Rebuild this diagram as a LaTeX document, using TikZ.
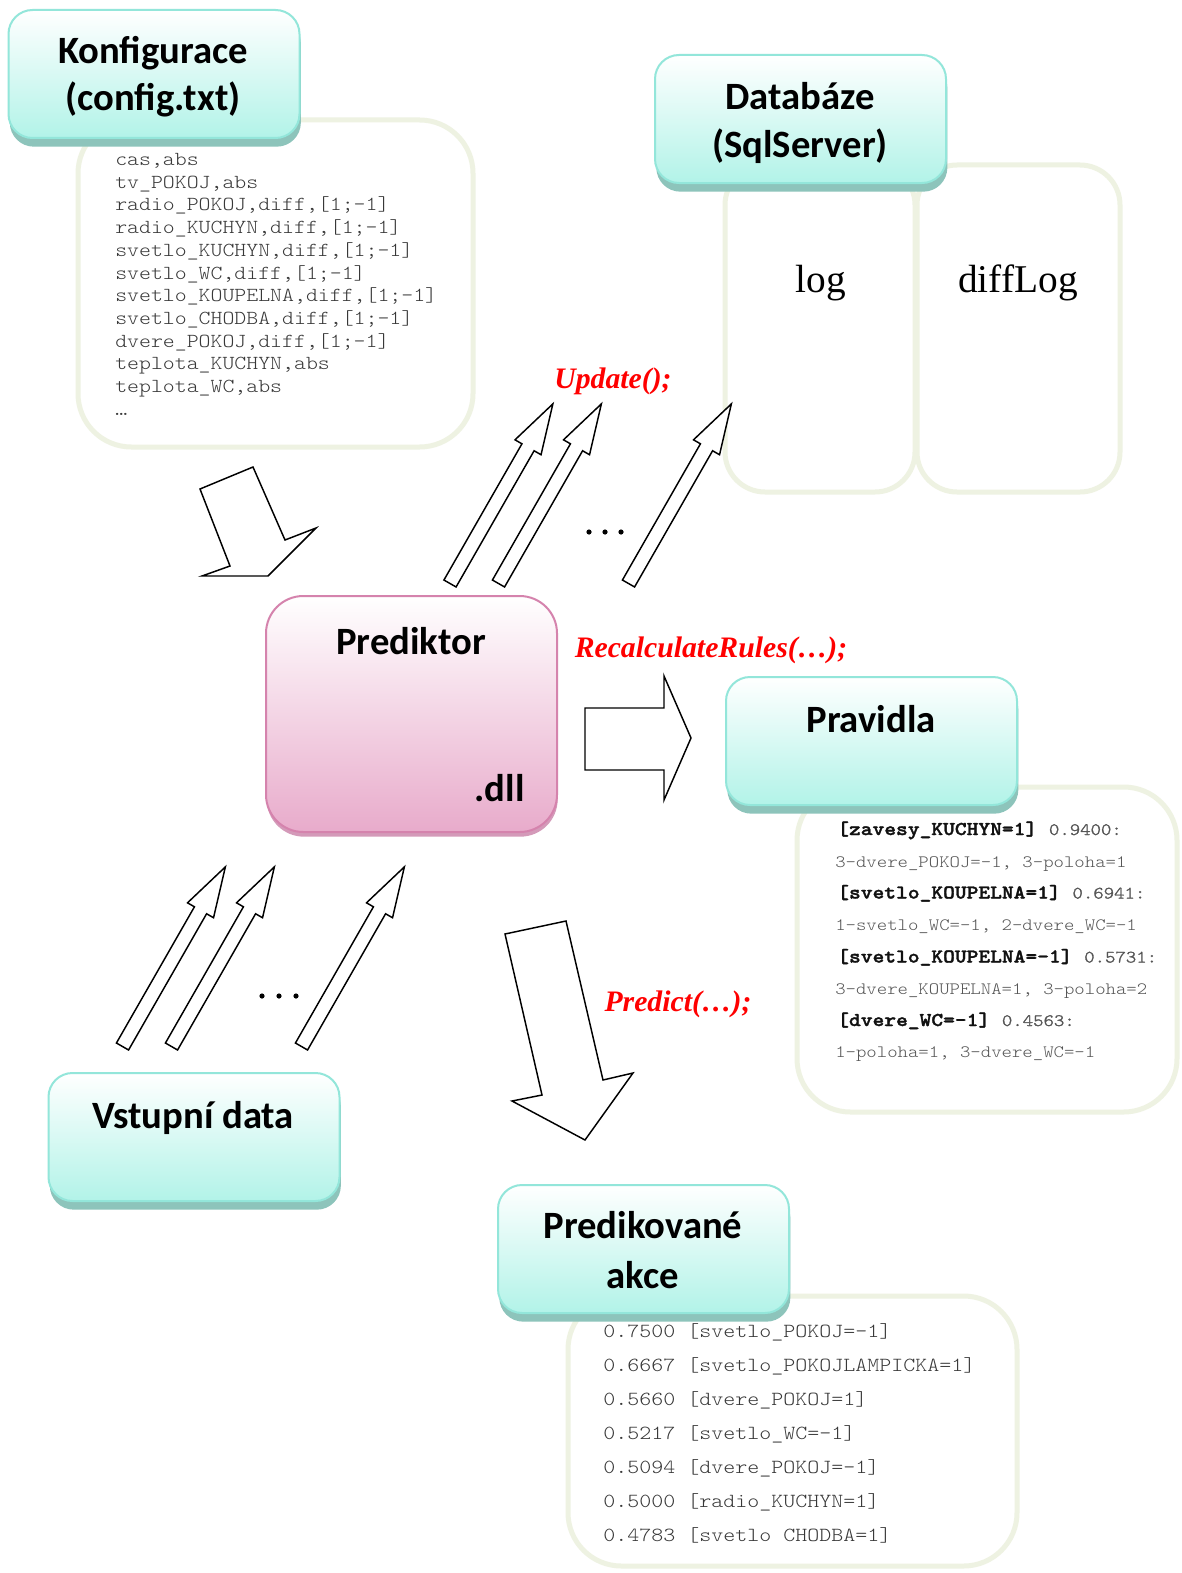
\documentclass[tikz,border=0pt]{standalone}
\usepackage{fontspec}
\setmainfont{Liberation Serif}
\newfontfamily\titlefont{Carlito}
\newfontfamily\codefont{Latin Modern Mono Light}[FakeStretch=1.143]
\usetikzlibrary{shadows}

\definecolor{cyanbot}{HTML}{B2F3E8}
\definecolor{cyanedge}{HTML}{93E6DA}
\definecolor{cyanshadow}{HTML}{8DC4BB}
\definecolor{pinkbot}{HTML}{E8ABCB}
\definecolor{pinkedge}{HTML}{D583AD}
\definecolor{pinkshadow}{HTML}{D49AB9}
\definecolor{panelrim}{HTML}{EEF2E2}
\definecolor{codegray}{HTML}{383838}
\definecolor{rulegray}{HTML}{555555}
\definecolor{ruledark}{HTML}{111111}
\definecolor{callred}{HTML}{FF0000}

% hollow block arrow that leans up and to the right, given by its foot
\newcommand\liftarrow[2]{%
  \draw[blockarrow, shift={(#1,#2)}, rotate=60.2]
    (0,-7) -- (157,-7) -- (157,-15) -- (207,0) -- (157,15) -- (157,7) -- (0,7) -- cycle;}

\begin{document}
\begin{tikzpicture}[x=0.75pt,y=-0.75pt,
  titlebox/.style={rectangle, rounded corners=18pt, draw=cyanedge, line width=1.5pt,
    top color=white, bottom color=cyanbot, inner sep=0pt,
    minimum width=291*0.75pt, minimum height=128*0.75pt,
    general shadow={fill=cyanshadow, draw=none, shadow yshift=-6.5pt, shadow xshift=1pt}},
  corebox/.style={rectangle, rounded corners=28pt, draw=pinkedge, line width=1.5pt,
    top color=white, bottom color=pinkbot, inner sep=0pt,
    minimum width=291*0.75pt, minimum height=236*0.75pt,
    general shadow={fill=pinkshadow, draw=none, shadow yshift=-3.5pt, shadow xshift=0.5pt}},
  panel/.style={draw=panelrim, line width=3.75pt, fill=white},
  titletext/.style={font=\titlefont\bfseries\fontsize{29}{35}\selectfont, anchor=base, inner sep=0pt},
  tabletext/.style={font=\fontsize{29.5}{35}\selectfont, anchor=base, inner sep=0pt},
  calltext/.style={font=\bfseries\itshape\fontsize{22.3}{26}\selectfont, text=callred, inner sep=0pt},
  cfgline/.style={font=\codefont\fontsize{14.9}{17}\selectfont, text=codegray, anchor=base west, inner sep=0pt},
  ruleline/.style={font=\codefont\fontsize{13}{15}\selectfont, text=rulegray, anchor=base west, inner sep=0pt},
  rulehead/.style={font=\codefont\bfseries\addfontfeature{FakeBold=1.6}\fontsize{14.7}{17}\selectfont, text=ruledark, anchor=base west, inner sep=0pt},
  actline/.style={font=\codefont\fontsize{15}{17}\selectfont, text=codegray, anchor=base west, inner sep=0pt},
  blockarrow/.style={draw=black, fill=white, line width=1.1pt, line join=miter},
  dotmark/.style={fill=black}
]
\useasboundingbox (0,0) rectangle (1181,1573);
\fill[white] (0,0) rectangle (1181,1573);

% ---- content panels behind the title boxes ----
\draw[panel, rounded corners=40pt] (78,120) rectangle (473,447);
\draw[panel, rounded corners=30pt] (725,165) rectangle (915,492);
\draw[panel, rounded corners=30pt] (917,165) rectangle (1120,492);
\draw[panel, rounded corners=40pt] (797,787) rectangle (1177,1112);
\draw[panel, rounded corners=40pt] (568,1296) rectangle (1017,1566);

% ---- title boxes ----
\node[titlebox] (konf) at (154,74) {};
\node[titlebox] (db) at (800.5,119) {};
\node[corebox] (pred) at (411.5,714) {};
\node[titlebox] (rules) at (871.5,741) {};
\node[titlebox] (input) at (194,1137) {};
\node[titlebox] (acts) at (643.5,1249) {};

\node[titletext] (konfA) at (153,64) {Konfigurace};
\node[titletext] (konfB) at (153,111) {(config.txt)};
\node[titletext] (dbA) at (800,110) {Databáze};
\node[titletext] (dbB) at (800,157) {(SqlServer)};
\node[titletext] (predA) at (411,654) {Prediktor};
\node[titletext, anchor=base east] (predB) at (525,801) {.dll};
\node[titletext] (rulesA) at (871,732) {Pravidla};
\node[titletext] (inputA) at (193,1128) {Vstupní data};
\node[titletext] (actsA) at (643,1238) {Predikované};
\node[titletext] (actsB) at (643,1288) {akce};

% ---- database tables ----
\node[tabletext] (logt) at (821,292) {log};
\node[tabletext] (difft) at (1018,292) {diffLog};

% ---- configuration file ----
\foreach \t [count=\i from 0] in {{cas,abs},{tv\_POKOJ,abs},{radio\_POKOJ,diff,[1;-1]},
  {radio\_KUCHYN,diff,[1;-1]},{svetlo\_KUCHYN,diff,[1;-1]},{svetlo\_WC,diff,[1;-1]},
  {svetlo\_KOUPELNA,diff,[1;-1]},{svetlo\_CHODBA,diff,[1;-1]},{dvere\_POKOJ,diff,[1;-1]},
  {teplota\_KUCHYN,abs},{teplota\_WC,abs},{…}}
  \node[cfgline] (cfg\i) at (115,165.5+22.7*\i) {\t};

% ---- rules ----
\node[rulehead] (r1) at (837,835) {[zavesy\_KUCHYN=1] {\mdseries\color{rulegray}\fontsize{13}{15}\selectfont 0.9400:}};
\node[ruleline] (r2) at (835,867) {3-dvere\_POKOJ=-1, 3-poloha=1};
\node[rulehead] (r3) at (837,898.5) {[svetlo\_KOUPELNA=1] {\mdseries\color{rulegray}\fontsize{13}{15}\selectfont 0.6941:}};
\node[ruleline] (r4) at (835,930.5) {1-svetlo\_WC=-1, 2-dvere\_WC=-1};
\node[rulehead] (r5) at (837,962.5) {[svetlo\_KOUPELNA=-1] {\mdseries\color{rulegray}\fontsize{13}{15}\selectfont 0.5731:}};
\node[ruleline] (r6) at (835,994.5) {3-dvere\_KOUPELNA=1, 3-poloha=2};
\node[rulehead] (r7) at (837,1026) {[dvere\_WC=-1] {\mdseries\color{rulegray}\fontsize{13}{15}\selectfont 0.4563:}};
\node[ruleline] (r8) at (835,1057.5) {1-poloha=1, 3-dvere\_WC=-1};

% ---- predicted actions ----
\foreach \t [count=\i from 0] in {{0.7500 [svetlo\_POKOJ=-1]},{0.6667 [svetlo\_POKOJLAMPICKA=1]},
  {0.5660 [dvere\_POKOJ=1]},{0.5217 [svetlo\_WC=-1]},{0.5094 [dvere\_POKOJ=-1]},
  {0.5000 [radio\_KUCHYN=1]},{0.4783 [svetlo CHODBA=1]}}
  \node[actline] (act\i) at (603,1337+34*\i) {\t};

% ---- method calls ----
\node[calltext] (callU) at (613,381) {Update();};
\node[calltext] (callR) at (711,650) {RecalculateRules(…);};
\node[calltext] (callP) at (678,1004) {Predict(…);};

% ---- configuration flows into the predictor ----
\draw[blockarrow] (200,489) -- (253,467) -- (285,540) -- (316,528) -- (268,576)
  -- (202,576) -- (230,566) -- cycle;

% ---- updates to the database ----
\liftarrow{450}{583.5}
\liftarrow{498.5}{583.5}
\liftarrow{628.5}{583.5}
\foreach \x in {589,605,621} \fill[dotmark] (\x,532) circle (2.6);

% ---- predictor recalculates the rules ----
\draw[blockarrow] (585,708) -- (664,708) -- (664,676) -- (691,738) -- (664,800)
  -- (664,770) -- (585,770) -- cycle;

% ---- input data feeds the predictor ----
\liftarrow{122.5}{1046.5}
\liftarrow{171.5}{1046.5}
\liftarrow{301.5}{1046.5}
\foreach \x in {262,279,296} \fill[dotmark] (\x,996) circle (2.6);

% ---- predictor emits predicted actions ----
\draw[blockarrow] (505,934) -- (566,921) -- (603,1080) -- (633,1073) -- (585,1140)
  -- (512,1101) -- (542,1095) -- cycle;
\end{tikzpicture}
\end{document}
